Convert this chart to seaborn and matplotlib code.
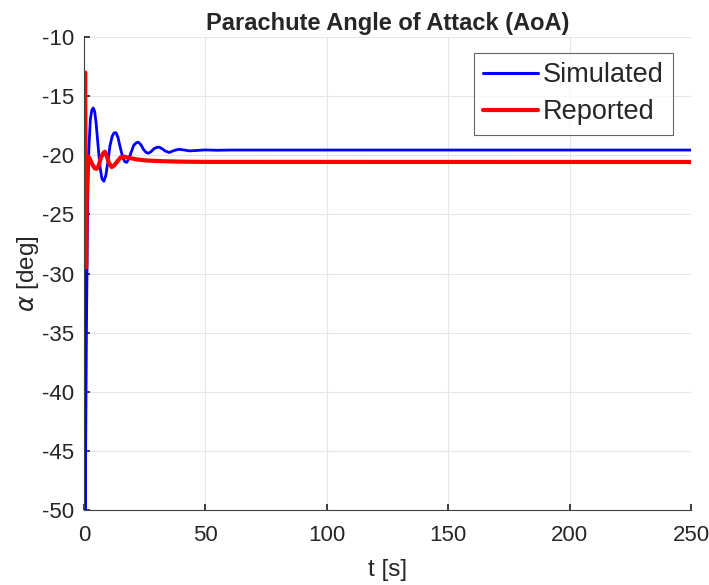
import matplotlib
matplotlib.use("Agg")
import matplotlib.pyplot as plt
import seaborn as sns
import pandas as pd

# Simulated AoA (blue)
t_sim = [0, 0.25, 0.5, 1.0, 1.5, 2.0, 2.6, 3.2, 3.8, 4.4, 5.0, 5.8, 6.6, 7.4,
         8.2, 9.0, 9.8, 10.7, 11.6, 12.4, 13.2, 14.0, 15.0, 16.0, 16.8, 17.6,
         18.5, 19.5, 20.5, 21.5, 22.4, 23.4, 24.5, 25.5, 26.5, 27.6, 28.8, 30,
         31, 32.2, 33.5, 35.1, 36.8, 38.9, 41, 43.5, 46, 50, 55, 60, 250]
a_sim = [-20, -35, -50.5, -35, -24, -19.5, -17.0, -16.2, -16.0, -16.3, -17.3,
         -19.2, -21.0, -22.0, -22.2, -21.7, -20.6, -19.2, -18.4, -18.1, -18.1,
         -18.5, -19.4, -20.2, -20.55, -20.6, -20.3, -19.7, -19.15, -18.95,
         -18.9, -19.1, -19.5, -19.75, -19.83, -19.7, -19.45, -19.33, -19.32,
         -19.45, -19.65, -19.77, -19.62, -19.5, -19.55, -19.63, -19.6, -19.55,
         -19.58, -19.56, -19.56]

# Reported AoA (red)
t_rep = [0, 0.2, 0.45, 0.65, 0.85, 1.1, 1.4, 1.8, 2.6, 3.5, 4.4, 5.2, 6.0,
         7.0, 8.0, 8.6, 9.3, 10.2, 11.4, 12.5, 13.8, 15.0, 16.2, 18.0, 21.7,
         26, 32, 39.5, 50, 250]
a_rep = [-25, -19, -13, -21, -29.5, -24, -20.2, -20.1, -20.4, -20.8, -21.1,
         -21.15, -20.9, -20.2, -19.8, -19.7, -20.0, -20.6, -21.0, -20.85,
         -20.5, -20.2, -20.1, -20.2, -20.35, -20.45, -20.5, -20.54, -20.56,
         -20.57]

sns.set_theme(style="whitegrid")
plt.rcParams['font.family'] = ['Liberation Sans', 'DejaVu Sans']
plt.rcParams['axes.unicode_minus'] = False

df_sim = pd.DataFrame({"t": t_sim, "a": a_sim})
df_rep = pd.DataFrame({"t": t_rep, "a": a_rep})

fig = plt.figure(figsize=(7.09, 5.85), dpi=100)
ax = fig.add_axes([84/709, 1-510/585, (691-84)/709, (510-37)/585])

sns.lineplot(data=df_sim, x="t", y="a", ax=ax, color="#0000FF", lw=2.0,
             sort=False, estimator=None, label="Simulated")
sns.lineplot(data=df_rep, x="t", y="a", ax=ax, color="#FF0000", lw=3.0,
             sort=False, estimator=None, label="Reported")

ax.set_xlim(0, 250)
ax.set_ylim(-50, -10)
ax.set_xticks([0, 50, 100, 150, 200, 250])
ax.set_yticks(range(-50, -9, 5))
ax.grid(True, color="#e6e6e6", lw=0.8)
for s in ["top", "right"]:
    ax.spines[s].set_visible(False)
for s in ["left", "bottom"]:
    ax.spines[s].set_color("#404040")
    ax.spines[s].set_linewidth(0.8)
ax.tick_params(direction="in", length=4, labelsize=16, colors="#262626",
               left=True, bottom=True)
ax.tick_params(axis="y", pad=7)
ax.tick_params(axis="x", pad=11)
ax.set_xlabel("t [s]", fontsize=17.5, color="#262626", labelpad=9)
ax.set_ylabel(r"$\alpha$ [deg]", fontsize=17.5, color="#262626", labelpad=1)
ax.set_title("Parachute Angle of Attack (AoA)", fontsize=17,
             fontweight="bold", pad=5)
leg = ax.legend(loc="upper right", fontsize=19.5, frameon=True, fancybox=False,
                edgecolor="#404040", handlelength=2.0, borderpad=0.34,
                labelspacing=0.41, handletextpad=0.2, borderaxespad=0,
                bbox_to_anchor=((673-84)/607, (510-53)/473))
leg.get_frame().set_linewidth(0.8)
for h in leg.get_lines():
    h.set_linewidth(2.2 if h.get_color() == "#0000FF" else 3.0)

fig.savefig("out.png", dpi=100)
